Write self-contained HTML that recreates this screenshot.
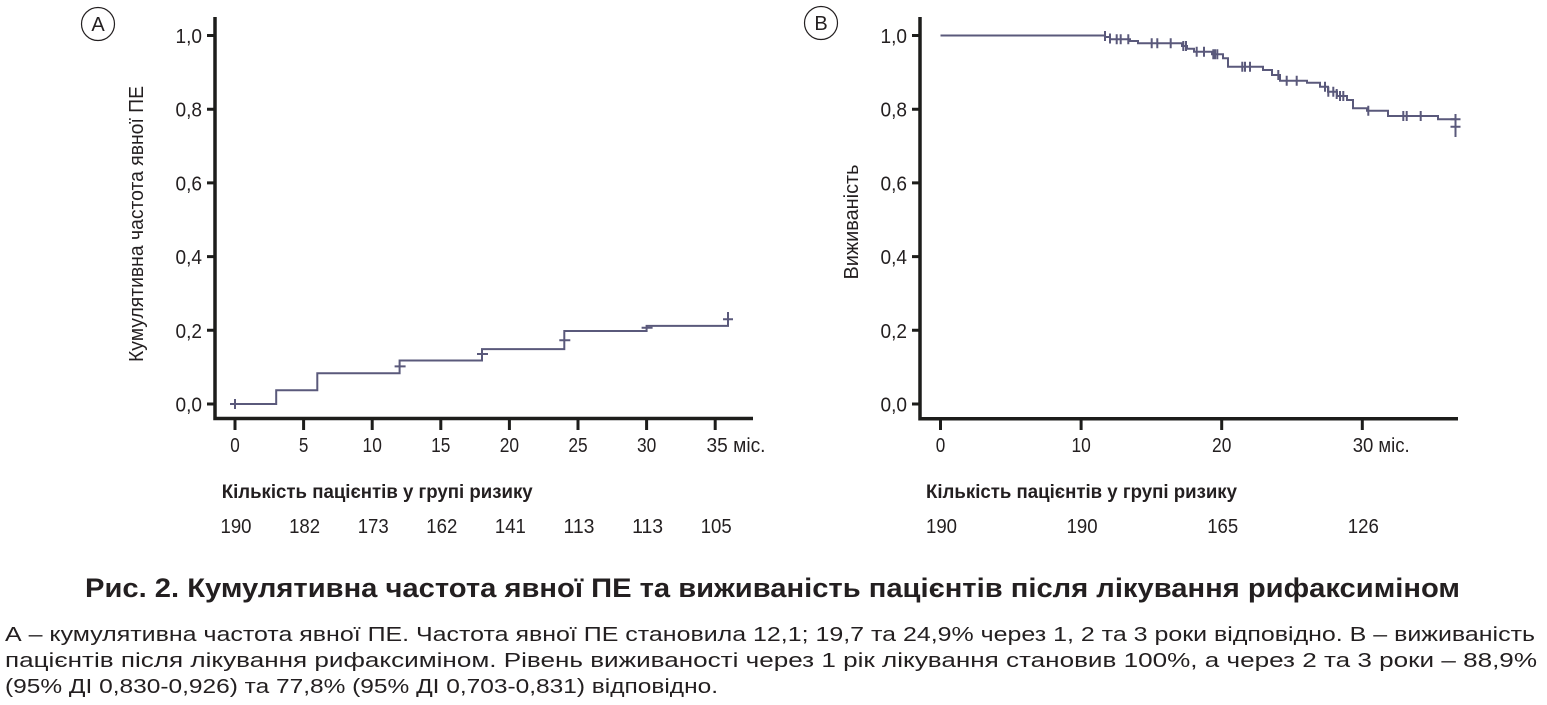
<!DOCTYPE html>
<html>
<head>
<meta charset="utf-8">
<style>
  html,body{margin:0;padding:0;background:#fff;}
  svg{display:block;}
  .t{font-family:"Liberation Sans Narrow","Liberation Sans","DejaVu Sans",sans-serif;fill:#231f20;}
  .c{font-family:"Liberation Sans","DejaVu Sans",sans-serif;fill:#231f20;}
  .ax{stroke:#1d1d1b;stroke-width:3.5;fill:none;}
  .tk{stroke:#1d1d1b;stroke-width:3;fill:none;}
  .cv{stroke:#5a597b;stroke-width:2;fill:none;}
  .cs{stroke:#5a597b;stroke-width:2;fill:none;}
</style>
</head>
<body>
<svg width="1547" height="705" viewBox="0 0 1547 705" xmlns="http://www.w3.org/2000/svg">
  <rect width="1547" height="705" fill="#fff"/>

  <!-- ============ PANEL A ============ -->
  <circle cx="98" cy="24" r="16.5" fill="none" stroke="#231f20" stroke-width="1.2"/>
  <text class="t" x="98" y="31" font-size="20" text-anchor="middle">A</text>

  <path class="ax" d="M215,17 V418.5 H753"/>
  <path class="tk" d="M207,35.5H215 M207,109.2H215 M207,182.9H215 M207,256.6H215 M207,330.3H215 M207,404H215"/>
  <path class="tk" d="M235,418V430 M303.6,418V430 M372.2,418V430 M440.8,418V430 M509.4,418V430 M578,418V430 M646.6,418V430 M715.2,418V430"/>

  <g class="t" font-size="20" text-anchor="end">
    <text x="202" y="43" textLength="26.5" lengthAdjust="spacingAndGlyphs">1,0</text>
    <text x="202" y="116.7" textLength="26.5" lengthAdjust="spacingAndGlyphs">0,8</text>
    <text x="202" y="190.4" textLength="26.5" lengthAdjust="spacingAndGlyphs">0,6</text>
    <text x="202" y="264.1" textLength="26.5" lengthAdjust="spacingAndGlyphs">0,4</text>
    <text x="202" y="337.8" textLength="26.5" lengthAdjust="spacingAndGlyphs">0,2</text>
    <text x="202" y="411.5" textLength="26.5" lengthAdjust="spacingAndGlyphs">0,0</text>
  </g>
  <g class="t" font-size="20" text-anchor="middle">
    <text x="235" y="452" textLength="9.5" lengthAdjust="spacingAndGlyphs">0</text>
    <text x="303.6" y="452" textLength="9.5" lengthAdjust="spacingAndGlyphs">5</text>
    <text x="372.2" y="452" textLength="19.3" lengthAdjust="spacingAndGlyphs">10</text>
    <text x="440.8" y="452" textLength="19.3" lengthAdjust="spacingAndGlyphs">15</text>
    <text x="509.4" y="452" textLength="19.3" lengthAdjust="spacingAndGlyphs">20</text>
    <text x="578" y="452" textLength="19.3" lengthAdjust="spacingAndGlyphs">25</text>
    <text x="646.6" y="452" textLength="19.3" lengthAdjust="spacingAndGlyphs">30</text>
  </g>
  <text class="t" font-size="20" x="706.5" y="452" textLength="59" lengthAdjust="spacingAndGlyphs">35 міс.</text>

  <text class="t" font-size="20.5" text-anchor="middle" transform="translate(143,224) rotate(-90)" textLength="276" lengthAdjust="spacingAndGlyphs">Кумулятивна частота явної ПЕ</text>

  <text class="t" font-size="19.5" font-weight="bold" x="221.7" y="498" textLength="311" lengthAdjust="spacingAndGlyphs">Кількість пацієнтів у групі ризику</text>
  <g class="t" font-size="20" text-anchor="middle">
    <text x="236" y="533" textLength="31" lengthAdjust="spacingAndGlyphs">190</text>
    <text x="304.6" y="533" textLength="31" lengthAdjust="spacingAndGlyphs">182</text>
    <text x="373.2" y="533" textLength="31" lengthAdjust="spacingAndGlyphs">173</text>
    <text x="441.8" y="533" textLength="31" lengthAdjust="spacingAndGlyphs">162</text>
    <text x="510.4" y="533" textLength="31" lengthAdjust="spacingAndGlyphs">141</text>
    <text x="579" y="533" textLength="31" lengthAdjust="spacingAndGlyphs">113</text>
    <text x="647.6" y="533" textLength="31" lengthAdjust="spacingAndGlyphs">113</text>
    <text x="716.2" y="533" textLength="31" lengthAdjust="spacingAndGlyphs">105</text>
  </g>

  <path class="cv" d="M235,404 H276.2 V390.3 H317.3 V373.2 H399.6 V360.5 H482 V349.1 H564.3 V331 H646.6 V325.9 H728 V312"/>
  <path class="cs" d="M230,404H240 M235,399V409
                      M394.6,366.4H405.6
                      M477,354H488
                      M559.3,340.3H570.3
                      M641.6,327.7H652.6
                      M723,319.2H733"/>

  <!-- ============ PANEL B ============ -->
  <circle cx="821" cy="23" r="16.5" fill="none" stroke="#231f20" stroke-width="1.2"/>
  <text class="t" x="821" y="30" font-size="20" text-anchor="middle">B</text>

  <path class="ax" d="M920,17 V418.8 H1458"/>
  <path class="tk" d="M912,35.5H920 M912,109.2H920 M912,182.9H920 M912,256.6H920 M912,330.3H920 M912,404H920"/>
  <path class="tk" d="M940.5,418V430 M1081.1,418V430 M1221.7,418V430 M1362.3,418V430"/>

  <g class="t" font-size="20" text-anchor="end">
    <text x="907" y="43" textLength="26.5" lengthAdjust="spacingAndGlyphs">1,0</text>
    <text x="907" y="116.7" textLength="26.5" lengthAdjust="spacingAndGlyphs">0,8</text>
    <text x="907" y="190.4" textLength="26.5" lengthAdjust="spacingAndGlyphs">0,6</text>
    <text x="907" y="264.1" textLength="26.5" lengthAdjust="spacingAndGlyphs">0,4</text>
    <text x="907" y="337.8" textLength="26.5" lengthAdjust="spacingAndGlyphs">0,2</text>
    <text x="907" y="411.5" textLength="26.5" lengthAdjust="spacingAndGlyphs">0,0</text>
  </g>
  <g class="t" font-size="20" text-anchor="middle">
    <text x="940.5" y="452" textLength="9.5" lengthAdjust="spacingAndGlyphs">0</text>
    <text x="1081.1" y="452" textLength="19.3" lengthAdjust="spacingAndGlyphs">10</text>
    <text x="1221.7" y="452" textLength="19.3" lengthAdjust="spacingAndGlyphs">20</text>
  </g>
  <text class="t" font-size="20" x="1352.7" y="452" textLength="57" lengthAdjust="spacingAndGlyphs">30 міс.</text>

  <text class="t" font-size="20.5" text-anchor="middle" transform="translate(858,222) rotate(-90)" textLength="115" lengthAdjust="spacingAndGlyphs">Виживаність</text>

  <text class="t" font-size="19.5" font-weight="bold" x="926" y="498" textLength="311" lengthAdjust="spacingAndGlyphs">Кількість пацієнтів у групі ризику</text>
  <g class="t" font-size="20" text-anchor="middle">
    <text x="941.5" y="533" textLength="31" lengthAdjust="spacingAndGlyphs">190</text>
    <text x="1082.1" y="533" textLength="31" lengthAdjust="spacingAndGlyphs">190</text>
    <text x="1222.7" y="533" textLength="31" lengthAdjust="spacingAndGlyphs">165</text>
    <text x="1363.3" y="533" textLength="31" lengthAdjust="spacingAndGlyphs">126</text>
  </g>

  <path class="cv" d="M940.5,35.5 H1105 V37 H1110 V39.3 H1130 V41 H1138 V43.3 H1182 V46 H1187 V48.7 H1194 V51.7 H1212 V54.3 H1223 V58.3 H1228 V66.7 H1263 V70 H1272 V75 H1280 V80.7 H1307 V82.7 H1320 V86.7 H1328 V91.7 H1337 V96 H1347 V100 H1353 V108.3 H1367 V110.7 H1388 V116 H1438 V119.3 H1455.5 V137"/>
  <path class="cs" d="
    M1105,31V41 M1110,33.5V43.5 M1116.7,34.3V44.3 M1120.7,34.3V44.3 M1128.3,34.3V44.3
    M1151.7,38.3V48.3 M1157.3,38.3V48.3 M1170.7,38.3V48.3
    M1183.3,41V51 M1186,41V51
    M1196.7,46.7V56.7 M1204,46.7V56.7
    M1213.3,49.3V59.3 M1215,49.3V59.3 M1217.3,49.3V59.3
    M1242.3,61.7V71.7 M1245,61.7V71.7 M1250,61.7V71.7
    M1278.3,70V80 M1286.7,75.7V85.7 M1296.7,75.7V85.7
    M1325,81.7V91.7 M1328.3,86.7V96.7 M1333.3,86.7V96.7 M1336.7,89V99 M1340,91V101 M1343.3,91V101
    M1368.3,105.7V115.7
    M1403.3,111V121 M1406.7,111V121 M1420.7,111V121
    M1450.5,119.3H1460.5 M1450.5,126.7H1460.5 M1455.5,114V137"/>

  <!-- ============ CAPTION ============ -->
  <text class="c" font-size="27" font-weight="bold" x="85" y="597" textLength="1375" lengthAdjust="spacingAndGlyphs">Рис. 2. Кумулятивна частота явної ПЕ та виживаність пацієнтів після лікування рифаксиміном</text>
  <text class="c" font-size="20" x="5" y="641" textLength="1530" lengthAdjust="spacingAndGlyphs">А – кумулятивна частота явної ПЕ. Частота явної ПЕ становила 12,1; 19,7 та 24,9% через 1, 2 та 3 роки відповідно. В – виживаність</text>
  <text class="c" font-size="20" x="5" y="667" textLength="1532" lengthAdjust="spacingAndGlyphs">пацієнтів після лікування рифаксиміном. Рівень виживаності через 1 рік лікування становив 100%, а через 2 та 3 роки – 88,9%</text>
  <text class="c" font-size="20" x="5" y="693" textLength="713" lengthAdjust="spacingAndGlyphs">(95% ДІ 0,830-0,926) та 77,8% (95% ДІ 0,703-0,831) відповідно.</text>
</svg>
</body>
</html>
